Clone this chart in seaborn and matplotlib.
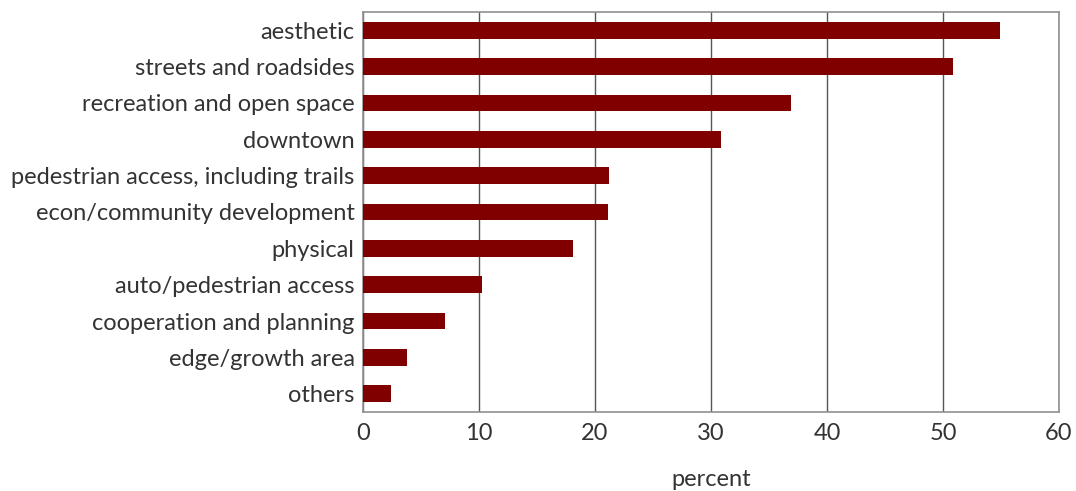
import matplotlib
matplotlib.use("Agg")
import matplotlib.pyplot as plt
import seaborn as sns
import pandas as pd

categories = [
    "aesthetic",
    "streets and roadsides",
    "recreation and open space",
    "downtown",
    "pedestrian access, including trails",
    "econ/community development",
    "physical",
    "auto/pedestrian access",
    "cooperation and planning",
    "edge/growth area",
    "others",
]
percent = [54.9, 50.9, 36.9, 30.9, 21.2, 21.1, 18.1, 10.3, 7.1, 3.8, 2.4]
xticks = [0, 10, 20, 30, 40, 50, 60]

df = pd.DataFrame({"category": categories, "percent": percent})

sns.set_style("white")
plt.rcParams["font.family"] = ["Lato", "DejaVu Sans"]

fig = plt.figure(figsize=(10.76, 4.91), dpi=100)
ax = fig.add_axes([363 / 1076, 1 - 412 / 491, (1059 - 363) / 1076, 400 / 491])

sns.barplot(data=df, x="percent", y="category", color="#800000",
            saturation=1, width=0.46, linewidth=0, ax=ax, zorder=3)

ax.set_xlim(0, 60)
ax.set_xticks(xticks)
ax.set_xticklabels([str(t) for t in xticks])
ax.grid(axis="x", color="#555555", linewidth=1.0, zorder=0)
ax.grid(axis="y", visible=False)
ax.set_axisbelow(True)

for s in ax.spines.values():
    s.set_visible(True)
    s.set_color("#909090")
    s.set_linewidth(1.2)

ax.tick_params(axis="both", length=0, labelsize=17, colors="#333333")
ax.tick_params(axis="x", pad=8)
ax.tick_params(axis="y", pad=6)
ax.set_ylabel("")
ax.set_xlabel("percent", fontsize=17, color="#333333", labelpad=18)

fig.savefig("out.png", dpi=100)
